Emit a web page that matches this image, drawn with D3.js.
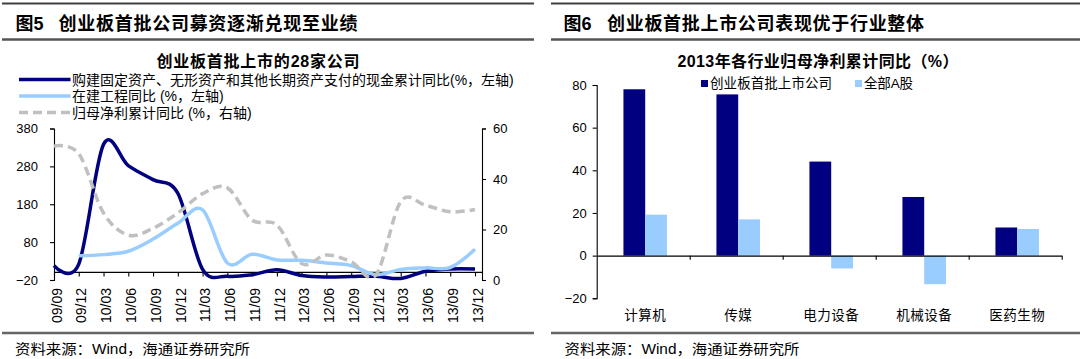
<!DOCTYPE html>
<html><head><meta charset="utf-8">
<script src="https://cdn.jsdelivr.net/npm/d3@7"></script>
<style>
html,body{margin:0;padding:0;background:#fff;}
svg{display:block;font-family:"Liberation Sans","Noto Sans CJK SC",sans-serif;}
</style></head><body>
<svg id="c" width="1080" height="359"></svg>
<script>
// ---------- data: left chart ----------
const quarters = ["09/09","09/12","10/03","10/06","10/09","10/12","11/03","11/06","11/09","11/12","12/03","12/06","12/09","12/12","13/03","13/06","13/09","13/12"];
const capexCash = [18,22,338,282,245,209,8,-10,-6,7,-8,-12,-11,-10,-16,3,9,9];
const constructionInProgress = [null,44,47,56,88,130,165,25,48,33,32,25,18,-6,8,12,13,61];
const netProfitGrowth = [53,50,26.5,17.8,20.5,26.5,34.2,36.5,23.7,21.8,6.5,9.9,7.2,2,31,29.6,27,27.9];
const leftTicks = [-20,80,180,280,380];
const rightTicks = [0,20,40,60];
const leftLegend = ["购建固定资产、无形资产和其他长期资产支付的现金累计同比(%，左轴)","在建工程同比 (%，左轴)","归母净利累计同比 (%，右轴)"];

// ---------- data: right chart ----------
const industries = ["计算机","传媒","电力设备","机械设备","医药生物"];
const gemFirstBatch = [78,75.6,44.1,27.5,13.2];
const allAShares = [19.2,17,-6,-13.4,12.5];
const barTicks = [-20,0,20,40,60,80];
const barLegend = ["创业板首批上市公司","全部A股"];

const CJK = '"Noto Sans CJK SC"';
const NAVY = "#000080", LIGHT = "#99CCFF", GRAY = "#C0C0C0";
const svg = d3.select("#c");

// ---------- frame rules ----------
function rule(x1,x2,y,w,c){
  svg.append("line").attr("x1",x1).attr("x2",x2).attr("y1",y).attr("y2",y)
    .attr("stroke",c).attr("stroke-width",w);
}
[[2,534],[551,1080]].forEach(([a,b])=>{
  rule(a,b,3.5,2,"#404040");
  rule(a,b,39.5,2.5,"#555");
  rule(a,b,333,2.5,"#666");
});

function panelTitle(x0,num,txt,xt,len){
  const t = svg.append("text").attr("y",29.5).attr("font-size",18).attr("font-weight","bold").attr("fill","#000");
  t.append("tspan").attr("x",x0).attr("font-family",CJK).text("图");
  t.append("tspan").attr("font-family","Liberation Sans").text(num);
  svg.append("text").attr("x",xt).attr("y",29.5).attr("font-size",18).attr("font-weight","bold")
    .attr("font-family",CJK).attr("textLength",len).attr("lengthAdjust","spacing").text(txt);
}
panelTitle(15.5,"5","创业板首批公司募资逐渐兑现至业绩",58.5,299);
panelTitle(563.5,"6","创业板首批上市公司表现优于行业整体",607,317);

function source(x){
  svg.append("text").attr("x",x).attr("y",354).attr("font-size",14)
    .attr("textLength",235).attr("lengthAdjust","spacingAndGlyphs")
    .text("资料来源：Wind，海通证券研究所");
}
source(15); source(564.5);

// ---------- left chart ----------
const L = svg.append("g");
L.append("text").attr("x",258).attr("y",66.5).attr("text-anchor","middle")
  .attr("font-size",16).attr("font-weight","bold").attr("textLength",203).attr("lengthAdjust","spacing")
  .text("创业板首批上市的28家公司");

const legendRows = [79.5,96,112.5];
const legendStyles = [{c:NAVY,d:null},{c:LIGHT,d:null},{c:GRAY,d:"9,5"}];
leftLegend.forEach((t,i)=>{
  L.append("line").attr("x1",19).attr("x2",70.5).attr("y1",legendRows[i]).attr("y2",legendRows[i])
    .attr("stroke",legendStyles[i].c).attr("stroke-width",3.5).attr("stroke-dasharray",legendStyles[i].d);
  L.append("text").attr("x",72).attr("y",legendRows[i]).attr("dy","0.36em").attr("font-size",14).text(t);
});

const x = d3.scalePoint().domain(quarters).range([54,475]);
const yL = d3.scaleLinear().domain([-20,380]).range([280,128.5]);
const yR = d3.scaleLinear().domain([0,60]).range([280,128.5]);

const axL = L.append("g").attr("transform","translate(54,0)")
  .call(d3.axisLeft(yL).tickValues(leftTicks).tickSize(4).tickPadding(12));
const axR = L.append("g").attr("transform","translate(482,0)")
  .call(d3.axisRight(yR).tickValues(rightTicks).tickSize(4).tickPadding(7));
const axX = L.append("g").attr("transform",`translate(0,${yL(0)})`)
  .call(d3.axisBottom(x).tickSize(4).tickSizeOuter(0).tickFormat(""));
axX.select(".domain").remove();
axX.append("line").attr("x1",54).attr("x2",482).attr("y1",0).attr("y2",0).attr("stroke","#000");
[axL,axR,axX].forEach(a=>{
  a.selectAll("text").attr("font-size",13).attr("fill","#000").attr("font-family","Liberation Sans");
  a.selectAll("path,line").attr("stroke","#000").attr("stroke-width",1.1);
});
L.append("g").selectAll("text").data(quarters).join("text")
  .attr("transform",d=>`translate(${x(d)},288) rotate(-90)`)
  .attr("text-anchor","end").attr("dy","0.55em").attr("font-size",14).text(d=>d);

const curve = d3.curveCatmullRom.alpha(0);
function series(vals,scale,color,dash){
  const line = d3.line().defined(d=>d.v!=null).x(d=>x(d.q)).y(d=>scale(d.v)).curve(curve);
  L.append("path").datum(quarters.map((q,i)=>({q,v:vals[i]})))
    .attr("d",line).attr("fill","none").attr("stroke",color).attr("stroke-width",3.5)
    .attr("stroke-linejoin","round").attr("stroke-dasharray",dash);
}
series(capexCash,yL,NAVY,null);
series(constructionInProgress,yL,LIGHT,null);
series(netProfitGrowth,yR,GRAY,"9,5");

// ---------- right chart ----------
const R = svg.append("g");
R.append("text").attr("x",818).attr("y",66.5).attr("text-anchor","middle")
  .attr("font-size",16).attr("font-weight","bold").attr("textLength",281).attr("lengthAdjust","spacing")
  .text("2013年各行业归母净利累计同比（%）");

const lgX = [701,855], lgLen=[122,49];
barLegend.forEach((t,i)=>{
  R.append("rect").attr("x",lgX[i]).attr("y",80).attr("width",7).attr("height",7).attr("fill",i?LIGHT:NAVY);
  R.append("text").attr("x",lgX[i]+9).attr("y",83.5).attr("dy","0.36em").attr("font-size",13.5)
    .attr("textLength",lgLen[i]).attr("lengthAdjust","spacing").text(t);
});

const xb = d3.scaleBand().domain(industries).range([596.7,1061.7]);
const xi = d3.scaleLinear().domain([0,industries.length]).range([596.7,1061.7]);
const yb = d3.scaleLinear().domain([-20,80]).range([298.3,85]);
const bw = xb.bandwidth()*0.234;

const bars = R.append("g");
industries.forEach((c,i)=>{
  const cx = xb(c)+xb.bandwidth()/2+2;
  [[gemFirstBatch[i],NAVY,cx-bw],[allAShares[i],LIGHT,cx]].forEach(([v,col,bx])=>{
    bars.append("rect").attr("x",bx).attr("width",bw)
      .attr("y",Math.min(yb(v),yb(0))).attr("height",Math.abs(yb(v)-yb(0))).attr("fill",col);
  });
});

const bY = R.append("g").attr("transform","translate(596.7,0)")
  .call(d3.axisLeft(yb).tickValues(barTicks).tickSize(4).tickPadding(6));
const bX = R.append("g").attr("transform",`translate(0,${yb(0)})`)
  .call(d3.axisBottom(xi).tickValues(d3.range(1,industries.length+1)).tickSize(4).tickSizeOuter(0).tickFormat(""));
[bY,bX].forEach(a=>{
  a.selectAll("text").attr("font-size",13).attr("fill","#000").attr("font-family","Liberation Sans");
  a.selectAll("path,line").attr("stroke","#000").attr("stroke-width",1.1);
});
R.append("g").selectAll("text").data(industries).join("text")
  .attr("x",d=>xb(d)+xb.bandwidth()/2+2).attr("y",315).attr("dy","0.36em")
  .attr("text-anchor","middle").attr("font-size",13.5).attr("letter-spacing",0.5).text(d=>d);
</script>
</body></html>
